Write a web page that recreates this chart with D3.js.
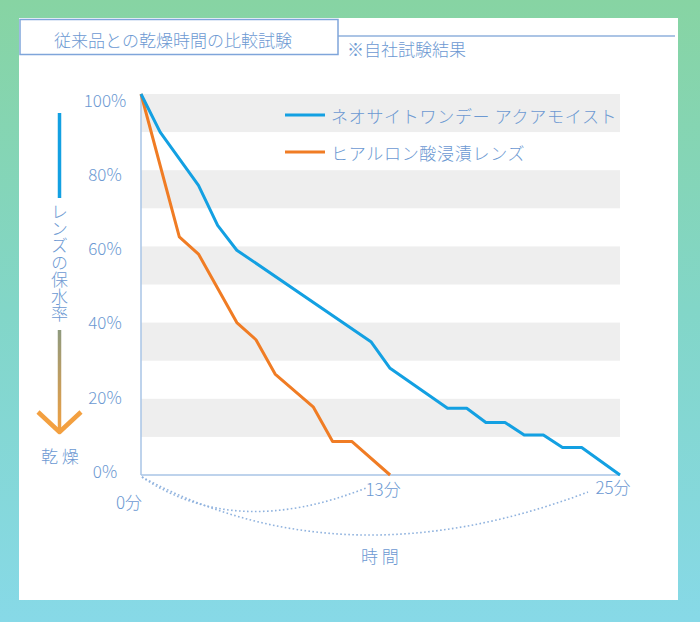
<!DOCTYPE html>
<html><head><meta charset="utf-8">
<script src="https://cdn.jsdelivr.net/npm/d3@7"></script>
<style>
html,body{margin:0;padding:0;}
svg{display:block;}
text{font-family:"Noto Sans CJK JP","Noto Sans",sans-serif;font-weight:300;fill:#6c99d2;}
</style></head>
<body>
<svg id="chart" width="700" height="622"></svg>
<script>
// ---- data ----
const seriesNames = ["ネオサイトワンデー アクアモイスト", "ヒアルロン酸浸漬レンズ"];
const blueTimes = [0, 1, 3, 4, 5, 12, 13, 16, 17, 18, 19, 20, 21, 22, 23, 25];
const blueValues = [100, 90, 76, 65.5, 59, 35, 28, 17.5, 17.5, 13.8, 13.8, 10.5, 10.5, 7.2, 7.2, 0];
const orangeTimes = [0, 2, 3, 5, 6, 7, 9, 10, 11, 13];
const orangeValues = [100, 62.5, 58, 40, 35.5, 26.5, 17.8, 8.8, 8.8, 0];
const yTicks = [0, 20, 40, 60, 80, 100];
const yTickLabels = ["0%", "20%", "40%", "60%", "80%", "100%"];
const xTicks = [0, 13, 25];
const xTickLabels = ["0分", "13分", "25分"];
const bandStarts = [10, 30, 50, 70, 90];
const titleText = "従来品との乾燥時間の比較試験";
const noteText = "※自社試験結果";
const yAxisTitle = "レンズの保水率";
const dryText = "乾 燥";
const xAxisTitle = "時 間";
const colors = ["#13a0e2", "#f07c24"];

const svg = d3.select("#chart");
const defs = svg.append("defs");
const bg = defs.append("linearGradient").attr("id","bg").attr("x1",0).attr("y1",0).attr("x2",0).attr("y2",1);
bg.append("stop").attr("offset","0%").attr("stop-color","#87d4a3");
bg.append("stop").attr("offset","50%").attr("stop-color","#82d6c8");
bg.append("stop").attr("offset","100%").attr("stop-color","#87d9e7");
const ag = defs.append("linearGradient").attr("id","arrowg").attr("gradientUnits","userSpaceOnUse")
  .attr("x1",0).attr("y1",330).attr("x2",0).attr("y2",432);
ag.append("stop").attr("offset","0%").attr("stop-color","#8e9a7e");
ag.append("stop").attr("offset","100%").attr("stop-color","#f3a040");

svg.append("rect").attr("width",700).attr("height",622).attr("fill","url(#bg)");
svg.append("rect").attr("x",19).attr("y",18).attr("width",659).attr("height",582).attr("fill","#ffffff");

// header
svg.append("line").attr("x1",338).attr("x2",675).attr("y1",36).attr("y2",36)
  .attr("stroke","#8fb0dc").attr("stroke-width",1.5);
svg.append("rect").attr("x",20).attr("y",19.5).attr("width",318).attr("height",35)
  .attr("fill","#fff").attr("stroke","#7fa5da").attr("stroke-width",1.5);
svg.append("text").attr("x",173).attr("y",39).attr("text-anchor","middle")
  .attr("dominant-baseline","central").attr("font-size",17).text(titleText);
svg.append("text").attr("x",347).attr("y",48).attr("dominant-baseline","central")
  .attr("font-size",17).text(noteText);

// scales
const x = d3.scaleLinear().domain([0,25]).range([141,620]);
const y = d3.scaleLinear().domain([0,100]).range([475,94]);
const yLab = d3.scaleLinear().domain([0,100]).range([470.5,99]);

// bands
svg.append("g").selectAll("rect").data(bandStarts).join("rect")
  .attr("x",x(0)).attr("width",x(25)-x(0))
  .attr("y",d=>y(d+10)).attr("height",d=>y(d)-y(d+10))
  .attr("fill","#eeeeee");

// axes
svg.append("line").attr("x1",x(0)).attr("x2",x(0)).attr("y1",y(100)).attr("y2",y(0))
  .attr("stroke","#a9c4e6").attr("stroke-width",1.5);
svg.append("line").attr("x1",x(0)).attr("x2",x(25)).attr("y1",y(0)).attr("y2",y(0))
  .attr("stroke","#a9c4e6").attr("stroke-width",1.5);

// y labels
svg.append("g").selectAll("text").data(yTicks).join("text")
  .attr("x",105).attr("y",d=>yLab(d)).attr("text-anchor","middle")
  .attr("dominant-baseline","central").attr("font-size",17)
  .text((d,i)=>yTickLabels[i]);

// x labels
const xLabY = [501,488,486];
svg.append("g").selectAll("text").data(xTicks).join("text")
  .attr("x",(d,i)=> i===0 ? x(d)-12 : x(d)-7).attr("y",(d,i)=>xLabY[i])
  .attr("text-anchor","middle").attr("dominant-baseline","central").attr("font-size",17)
  .text((d,i)=>xTickLabels[i]);

// dotted arcs
const arc1 = d3.path();
arc1.moveTo(x(0)+1, y(0)+2);
arc1.quadraticCurveTo(234, 540, x(13)-24, y(0)+13);
svg.append("path").attr("d",arc1.toString()).attr("fill","none")
  .attr("stroke","#8fb2de").attr("stroke-width",1.6).attr("stroke-dasharray","1.6,2.4");
const arc2 = d3.path();
arc2.moveTo(x(0)+1, y(0)+2);
arc2.quadraticCurveTo(342, 585, x(25)-32, y(0)+17);
svg.append("path").attr("d",arc2.toString()).attr("fill","none")
  .attr("stroke","#8fb2de").attr("stroke-width",1.6).attr("stroke-dasharray","1.6,2.4");
svg.append("text").attr("x",380).attr("y",555).attr("text-anchor","middle")
  .attr("dominant-baseline","central").attr("font-size",17).text(xAxisTitle);

// lines
const line = d3.line().x(d=>x(d[0])).y(d=>y(d[1]));
const seriesData = [
  blueTimes.map((t,i)=>[t,blueValues[i]]),
  orangeTimes.map((t,i)=>[t,orangeValues[i]])
];
svg.append("g").selectAll("path").data([seriesData[1], seriesData[0]]).join("path")
  .attr("d",line).attr("fill","none")
  .attr("stroke",(d,i)=> i===0 ? colors[1] : colors[0])
  .attr("stroke-width",3).attr("stroke-linejoin","round");

// legend
const leg = svg.append("g").selectAll("g").data(seriesNames).join("g")
  .attr("transform",(d,i)=>`translate(285,${115+i*37})`);
leg.append("line").attr("x1",0).attr("x2",40).attr("y1",0).attr("y2",0)
  .attr("stroke",(d,i)=>colors[i]).attr("stroke-width",3);
leg.append("text").attr("x",46).attr("y",0).attr("dominant-baseline","central")
  .attr("font-size",17).attr("letter-spacing",0.7).text(d=>d);

// left annotation
svg.append("line").attr("x1",59.5).attr("x2",59.5).attr("y1",113).attr("y2",198)
  .attr("stroke","#13a0e2").attr("stroke-width",3.5);
svg.append("text").attr("x",59.5).attr("y",203)
  .attr("font-size",17)
  .style("writing-mode","vertical-rl").style("text-orientation","upright")
  .attr("text-anchor","start").attr("dominant-baseline","central").text(yAxisTitle);
svg.append("line").attr("x1",59.5).attr("x2",59.5).attr("y1",330).attr("y2",432)
  .attr("stroke","url(#arrowg)").attr("stroke-width",3.5);
svg.append("path").attr("d","M38,412 L59.5,432 L81,412").attr("fill","none")
  .attr("stroke","#f3a040").attr("stroke-width",4.5).attr("stroke-linejoin","round");
svg.append("text").attr("x",60).attr("y",455).attr("text-anchor","middle")
  .attr("dominant-baseline","central").attr("font-size",17).text(dryText);
</script>
</body></html>
